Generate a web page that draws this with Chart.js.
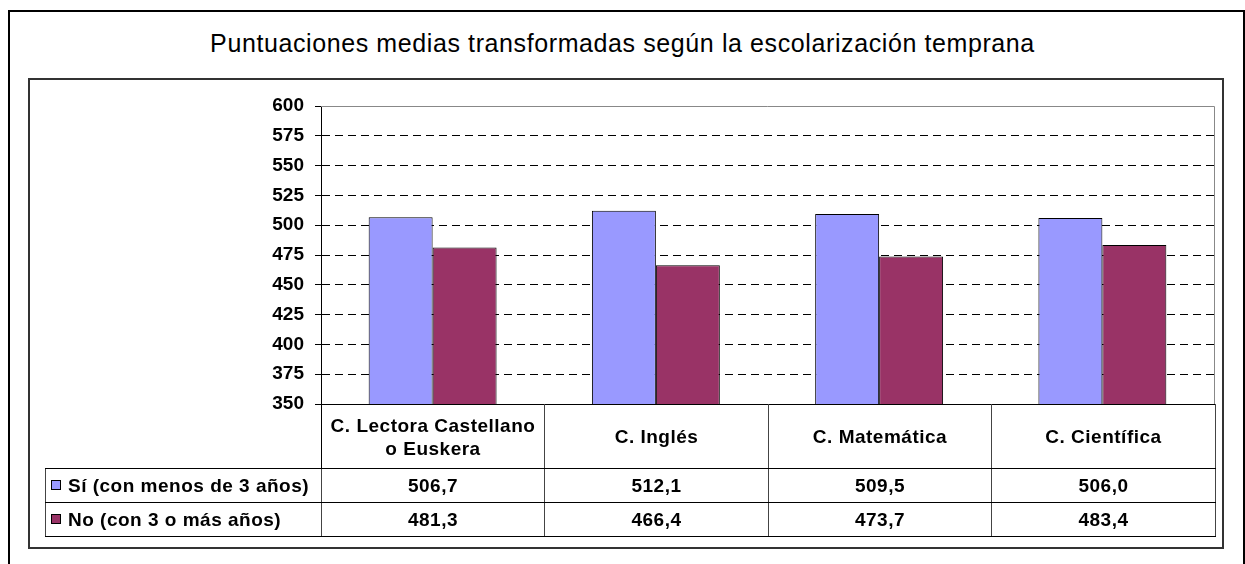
<!DOCTYPE html>
<html>
<head>
<meta charset="utf-8">
<script src="https://cdn.jsdelivr.net/npm/chart.js@4/dist/chart.umd.min.js"></script>
<style>
  body { margin: 0; background: #fff; font-family: "Liberation Sans", Arial, sans-serif; }
  #page { position: relative; width: 1245px; height: 564px; overflow: hidden; }
  #outer { position: absolute; left: 8px; top: 10px; width: 1237px; height: 570px; border: 2px solid #000; box-sizing: border-box; }
  #inner { position: absolute; left: 28px; top: 78px; width: 1196px; height: 471px; border: 2px solid #333; box-sizing: border-box; }
  #title { position: absolute; left: 0; top: 29px; width: 1245px; text-align: center; font-size: 25px; letter-spacing: 0.6px; color: #000; }
  #chart { position: absolute; left: 0; top: 0; }
  #dataTable { position: absolute; left: 45px; top: 404px; border-collapse: collapse; table-layout: fixed; width: 1170px; }
  #dataTable td { border: 1px solid #000; padding: 0; text-align: center; font-weight: bold; font-size: 19px; letter-spacing: 0.5px; color: #000; }
  #dataTable tr.head td { height: 63px; line-height: 23px; border-left-color: #444; border-right-color: #444; }
  #dataTable tr.head td.blank { border-top: none; border-left: none; border-right: 1px solid #000; }
  #dataTable tr.row td { height: 33px; border-left-color: #444; border-right-color: #444; }
  #dataTable td.legend { text-align: left; white-space: nowrap; border-left: 1px solid #000; }
  #dataTable td.last { border-right-color: #888; }
  .swatch { display: inline-block; width: 8px; height: 8px; border: 1px solid #000; margin: 0 7px 2px 5px; vertical-align: middle; }
</style>
</head>
<body>
<div id="page">
  <div id="outer"></div>
  <div id="inner"></div>
  <div id="title">Puntuaciones medias transformadas según la escolarización temprana</div>
  <canvas id="chart" width="1245" height="564"></canvas>
  <table id="dataTable"></table>
</div>
<script>
// Chart data
const categories = [['C. Lectora Castellano', 'o Euskera'], 'C. Inglés', 'C. Matemática', 'C. Científica'];
const seriesNames = ['Sí (con menos de 3 años)', 'No (con 3 o más años)'];
const siValues = [506.7, 512.1, 509.5, 506.0];
const noValues = [481.3, 466.4, 473.7, 483.4];
const yTicks = [350, 375, 400, 425, 450, 475, 500, 525, 550, 575, 600];
const seriesColors = ['#9999FF', '#993366'];

// Format numbers with a decimal comma
function fmt(v) {
    return v.toFixed(1).replace('.', ',');
}

// Build the data table under the chart
function renderTable() {
    const table = document.getElementById('dataTable');
    const colWidths = [276, 223, 224, 223, 224];
    let html = '<colgroup>' + colWidths.map(w => '<col style="width:' + w + 'px">').join('') + '</colgroup>';

    html += '<tr class="head"><td class="blank"></td>';
    categories.forEach((cat, i) => {
        const label = Array.isArray(cat) ? cat.join('<br>') : cat;
        html += '<td' + (i === categories.length - 1 ? ' class="last"' : '') + '>' + label + '</td>';
    });
    html += '</tr>';

    [siValues, noValues].forEach((vals, s) => {
        html += '<tr class="row"><td class="legend"><span class="swatch" style="background:' + seriesColors[s] + '"></span>' + seriesNames[s] + '</td>';
        vals.forEach((v, i) => {
            html += '<td' + (i === vals.length - 1 ? ' class="last"' : '') + '>' + fmt(v) + '</td>';
        });
        html += '</tr>';
    });
    table.innerHTML = html;
}

// Frame of the plot area (grey top/right, black bottom)
const plotFrame = {
    id: 'plotFrame',
    beforeDatasetsDraw(chart) {
        const { ctx, chartArea: a } = chart;
        ctx.save();
        ctx.lineWidth = 1;
        ctx.strokeStyle = '#888';
        ctx.beginPath();
        ctx.moveTo(a.left, a.top + 0.5);
        ctx.lineTo(a.right + 0.5, a.top + 0.5);
        ctx.lineTo(a.right + 0.5, a.bottom);
        ctx.stroke();
        ctx.strokeStyle = '#000';
        ctx.beginPath();
        ctx.moveTo(a.left, a.bottom + 0.5);
        ctx.lineTo(a.right + 1, a.bottom + 0.5);
        ctx.stroke();
        ctx.restore();
    }
};

function renderChart() {
    const ctx = document.getElementById('chart').getContext('2d');
    new Chart(ctx, {
        type: 'bar',
        data: {
            labels: categories,
            datasets: [
                {
                    label: seriesNames[0],
                    data: siValues,
                    backgroundColor: seriesColors[0],
                    borderColor: '#000',
                    borderWidth: 1,
                    borderSkipped: false
                },
                {
                    label: seriesNames[1],
                    data: noValues,
                    backgroundColor: seriesColors[1],
                    borderColor: '#000',
                    borderWidth: 1,
                    borderSkipped: false
                }
            ]
        },
        options: {
            responsive: false,
            animation: false,
            layout: { padding: { left: 0, top: 106, right: 31, bottom: 160 } },
            datasets: { bar: { categoryPercentage: 0.573, barPercentage: 1.0 } },
            plugins: {
                legend: { display: false },
                title: { display: false },
                tooltip: { enabled: false }
            },
            scales: {
                x: { display: false },
                y: {
                    min: yTicks[0],
                    max: yTicks[yTicks.length - 1],
                    afterBuildTicks: scale => { scale.ticks = yTicks.map(v => ({ value: v })); },
                    afterFit: scale => { scale.width = 321; },
                    ticks: {
                        color: '#000',
                        padding: 11,
                        font: { family: '"Liberation Sans", Arial, sans-serif', size: 19, weight: 'bold' }
                    },
                    grid: {
                        color: c => (c.tick && (c.tick.value === 600 || c.tick.value === 350)) ? 'rgba(0,0,0,0)' : '#000',
                        tickColor: '#000',
                        tickLength: 6,
                        lineWidth: 1
                    },
                    border: { display: true, color: '#000', width: 1, dash: [8, 5] }
                }
            }
        },
        plugins: [plotFrame]
    });
}

function init() {
    renderTable();
    renderChart();
}

document.addEventListener('DOMContentLoaded', init);
</script>
</body>
</html>
